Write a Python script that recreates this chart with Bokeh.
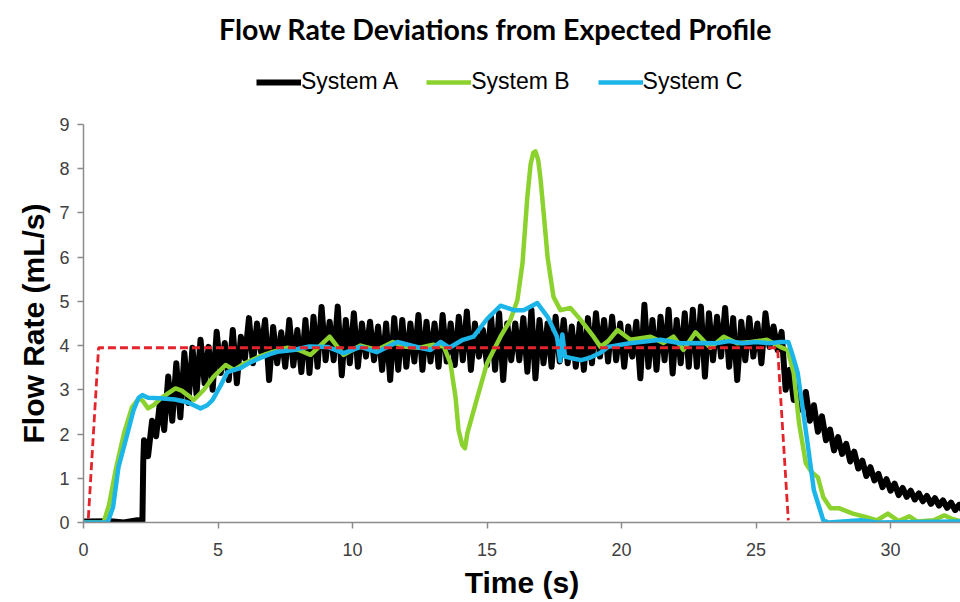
from bokeh.plotting import figure
from bokeh.models import Legend, LegendItem, Range1d, FixedTicker, Label, Title
from bokeh.embed import file_html
from bokeh.resources import INLINE

# ---------------- data ----------------
# Expected profile
exp_t = [0.18, 0.56, 25.8, 26.2]
exp_y = [0.10, 3.95, 3.95, 0.05]

# System A (black, oscillating)
sysA_t = [0.0, 1.0, 1.5, 2.0, 2.19, 2.22,
          2.25, 2.40, 2.55, 2.70, 2.85, 3.00, 3.15, 3.30, 3.45, 3.60,
          3.75, 3.90, 4.05, 4.20, 4.35, 4.50, 4.65, 4.80, 4.95, 5.10,
          5.25, 5.40, 5.55, 5.70, 5.85, 6.00, 6.15, 6.30, 6.45, 6.60,
          6.75, 6.90, 7.05, 7.20, 7.35, 7.50, 7.65, 7.80, 7.95, 8.10,
          8.25, 8.40, 8.55, 8.70, 8.85, 9.00, 9.15, 9.30, 9.45, 9.60,
          9.75, 9.90, 10.05, 10.20, 10.35, 10.50, 10.65, 10.80, 10.95, 11.10,
          11.25, 11.40, 11.55, 11.70, 11.85, 12.00, 12.15, 12.30, 12.45, 12.60,
          12.75, 12.90, 13.05, 13.20, 13.35, 13.50, 13.65, 13.80, 13.95, 14.10,
          14.25, 14.40, 14.55, 14.70, 14.85, 15.00, 15.15, 15.30, 15.45, 15.60,
          15.75, 15.90, 16.05, 16.20, 16.35, 16.50, 16.65, 16.80, 16.95, 17.10,
          17.25, 17.40, 17.55, 17.70, 17.85, 18.00, 18.15, 18.30, 18.45, 18.60,
          18.75, 18.90, 19.05, 19.20, 19.35, 19.50, 19.65, 19.80, 19.95, 20.10,
          20.25, 20.40, 20.55, 20.70, 20.85, 21.00, 21.15, 21.30, 21.45, 21.60,
          21.75, 21.90, 22.05, 22.20, 22.35, 22.50, 22.65, 22.80, 22.95, 23.10,
          23.25, 23.40, 23.55, 23.70, 23.85, 24.00, 24.15, 24.30, 24.45, 24.60,
          24.75, 24.90, 25.05, 25.20, 25.35, 25.50, 25.65, 25.80, 25.95, 26.10,
          26.25, 26.40, 26.55, 26.70, 26.85, 27.00, 27.15, 27.30, 27.45, 27.60,
          27.75, 27.90, 28.05, 28.20, 28.35, 28.50, 28.65, 28.80, 28.95, 29.10,
          29.25, 29.40, 29.55, 29.70, 29.85, 30.00, 30.15, 30.30, 30.45, 30.60,
          30.75, 30.90, 31.05, 31.20, 31.35, 31.50, 31.65, 31.80, 31.95, 32.10,
          32.25, 32.40, 32.55, 32.70]
sysA_y = [0.02, 0.03, 0.00, 0.05, 0.03, 1.34,
          1.86, 1.50, 2.30, 1.95, 2.77, 2.09, 3.30, 2.30, 3.60, 2.38,
          3.83, 2.70, 3.95, 2.90, 4.13, 3.15, 3.97, 3.00, 4.31, 3.38,
          4.06, 3.22, 4.35, 3.15, 4.20, 3.70, 4.62, 3.60, 4.50, 3.85,
          4.58, 3.22, 4.42, 3.60, 4.30, 3.52, 4.58, 3.55, 4.35, 3.40,
          4.58, 3.38, 4.65, 3.52, 4.87, 3.67, 4.54, 3.67, 4.88, 3.33,
          4.58, 3.60, 4.73, 3.52, 4.50, 3.75, 4.54, 3.67, 4.43, 3.45,
          4.50, 3.22, 4.62, 3.45, 4.58, 3.52, 4.50, 3.64, 4.69, 3.45,
          4.54, 3.64, 4.50, 3.52, 4.69, 3.64, 4.50, 3.56, 4.65, 3.67,
          4.77, 3.45, 4.50, 3.75, 4.35, 3.56, 4.65, 3.45, 4.73, 3.22,
          4.50, 3.67, 4.50, 3.67, 4.62, 3.41, 4.81, 3.26, 4.58, 3.60,
          4.50, 3.52, 4.65, 3.64, 4.58, 3.60, 4.43, 3.52, 4.50, 3.45,
          4.62, 3.60, 4.73, 3.75, 4.58, 3.64, 4.65, 3.67, 4.50, 3.52,
          4.43, 3.75, 4.54, 3.26, 4.92, 3.52, 4.58, 3.45, 4.65, 3.67,
          4.81, 3.37, 4.58, 3.60, 4.73, 3.52, 4.81, 3.52, 4.88, 3.30,
          4.73, 3.67, 4.65, 3.75, 4.85, 3.52, 4.62, 3.22, 4.54, 3.67,
          4.62, 3.75, 4.50, 3.60, 4.73, 3.97, 4.43, 3.90, 4.31, 3.00,
          3.45, 2.77, 3.10, 2.55, 2.95, 2.30, 2.65, 2.05, 2.40, 1.86,
          2.10, 1.63, 1.93, 1.55, 1.78, 1.38, 1.60, 1.22, 1.40, 1.05,
          1.25, 0.95, 1.10, 0.80, 0.98, 0.72, 0.88, 0.62, 0.78, 0.58,
          0.72, 0.52, 0.66, 0.48, 0.60, 0.42, 0.55, 0.38, 0.50, 0.33,
          0.45, 0.28, 0.40, 0.25]

# System B (green)
sysB_t = [0.0, 0.75, 0.95, 1.2, 1.5, 1.8, 2.05, 2.2, 2.4, 2.6, 2.86, 3.1,
          3.42, 3.65, 3.87, 4.1, 4.46, 4.83, 5.28, 5.6, 6.0, 6.58, 7.0, 7.58,
          8.0, 8.44, 8.8, 9.15, 9.67, 10.3, 10.9, 11.5, 12.0, 12.5, 13.0, 13.4,
          13.64, 13.83, 13.94, 14.08, 14.18, 14.27, 14.64, 15.0, 15.5, 15.87,
          16.13, 16.32, 16.5, 16.62, 16.72, 16.8, 16.9, 16.99, 17.12, 17.25,
          17.47, 17.73, 18.1, 18.48, 18.96, 19.22, 19.5, 19.85, 20.33, 21.08,
          21.56, 21.93, 22.3, 22.75, 23.3, 23.8, 24.3, 24.8, 25.4, 25.9, 26.17,
          26.4, 26.6, 26.85, 27.05, 27.3, 27.5, 27.77, 28.1, 28.6, 29.1, 29.5,
          29.9, 30.3, 30.7, 31.0, 31.6, 32.0, 32.3, 32.6]
sysB_y = [0.0, 0.0, 0.4, 1.2, 2.0, 2.6, 2.8, 2.75, 2.58, 2.65, 2.8, 2.9,
          3.03, 2.98, 2.88, 2.77, 2.99, 3.29, 3.56, 3.45, 3.6, 3.76, 3.85, 3.95,
          3.9, 3.79, 4.0, 4.2, 3.79, 4.0, 3.9, 4.08, 3.97, 3.95, 4.02, 3.97,
          3.6, 2.83, 2.09, 1.75, 1.68, 2.02, 2.83, 3.6, 4.2, 4.58,
          5.03, 5.87, 7.37, 8.1, 8.36, 8.39, 8.2, 7.76, 6.9, 6.0,
          5.1, 4.8, 4.85, 4.58, 4.2, 3.97, 4.1, 4.35, 4.13, 4.2,
          4.06, 4.2, 3.9, 4.3, 3.95, 4.2, 4.05, 4.08, 4.13, 3.97, 3.9,
          3.38, 2.24, 1.34, 1.15, 1.02, 0.57, 0.32, 0.32, 0.2, 0.12, 0.05,
          0.2, 0.03, 0.14, 0.02, 0.05, 0.16, 0.08, 0.03]

# System C (blue)
sysC_t = [0.0, 0.9, 1.1, 1.3, 1.63, 1.86, 2.05, 2.19, 2.4, 2.86, 3.4, 3.87,
          4.35, 4.6, 4.8, 5.1, 5.35, 5.6, 5.84, 6.2, 6.58, 6.9, 7.2, 7.8,
          8.4, 9.07, 9.67, 10.3, 10.9, 11.67, 12.5, 12.9, 13.27, 13.6, 14.1,
          14.5, 15.0, 15.5, 16.0, 16.36, 16.87, 17.25, 17.6, 17.72, 17.8,
          17.9, 18.1, 18.5, 18.8, 19.2, 19.5, 20.3, 21.45, 22.2, 22.9, 23.5,
          24.0, 24.5, 25.0, 25.5, 25.9, 26.2, 26.35, 26.55, 26.9, 27.15,
          27.5, 27.7, 28.9, 29.5, 32.6]
sysC_y = [0.0, 0.0, 0.35, 1.25, 2.0, 2.54, 2.82, 2.88, 2.82, 2.81, 2.78, 2.72,
          2.58, 2.65, 2.77, 3.1, 3.4, 3.45, 3.49, 3.62, 3.72, 3.8, 3.86, 3.9,
          3.98, 3.97, 3.83, 3.97, 3.85, 4.08, 3.95, 3.9, 4.08, 3.95, 4.13,
          4.2, 4.6, 4.9, 4.8, 4.8, 4.96, 4.65, 4.2, 3.65, 4.25,
          3.75, 3.72, 3.67, 3.72, 3.83, 3.97, 4.05, 4.13, 4.05, 4.06, 4.05,
          4.1, 4.05, 4.08, 4.05, 4.08, 4.08, 3.8, 3.38, 1.86, 0.73,
          0.05, 0.0, 0.05, 0.0, 0.02]

x_ticks = [0, 5, 10, 15, 20, 25, 30]
y_ticks = [0, 1, 2, 3, 4, 5, 6, 7, 8, 9]
title_text = "Flow Rate Deviations from Expected Profile"
x_label = "Time (s)"
y_label = "Flow Rate (mL/s)"

# ---------------- figure ----------------
# frame fills the window height; the y axis itself is bounded to 0..9
p = figure(width=960, height=602, output_backend="svg", toolbar_location=None,
           x_range=Range1d(0, 32.6), y_range=Range1d(0, 11.80),
           min_border_left=83, min_border_right=0, min_border_top=0,
           min_border_bottom=80)
p.outline_line_color = None
p.grid.grid_line_color = None
p.background_fill_color = "white"
p.border_fill_color = "white"

rA = p.line(sysA_t, sysA_y, line_color="#000000", line_width=6, line_join="round")
rB = p.line(sysB_t, sysB_y, line_color="#8cd22e", line_width=4.5, line_join="round")
rC = p.line(sysC_t, sysC_y, line_color="#1cb5ea", line_width=4.5, line_join="round")
rE = p.line(exp_t, exp_y, line_color="#e3242b", line_width=2.8, line_dash="8 4")

for ax, ticks in ((p.xaxis, x_ticks), (p.yaxis, y_ticks)):
    ax.ticker = FixedTicker(ticks=ticks)
    ax.minor_tick_line_color = None
    ax.axis_line_color = "#8c8c8c"
    ax.axis_line_width = 1.5
    ax.major_tick_line_color = "#8c8c8c"
    ax.major_tick_line_width = 1.5
    ax.major_tick_out = 6
    ax.major_tick_in = 0
    ax.major_label_text_font = "Liberation Sans"
    ax.major_label_text_font_size = "18px"
    ax.major_label_text_color = "#404040"
    ax.axis_label_text_font = "Liberation Sans"
    ax.axis_label_text_font_style = "bold"
    ax.axis_label_text_color = "#000000"

p.yaxis.bounds = (0, 9)
p.xaxis.axis_label = x_label
p.xaxis.axis_label_text_font_size = "30px"
p.xaxis.major_label_standoff = 14
p.yaxis.major_label_standoff = 8
p.xaxis.axis_label_standoff = 7

# vertical axis title, placed in the left panel so it is not clipped
ytitle = Title(text=y_label, align="left", offset=79,
               text_font="Liberation Sans", text_font_style="bold",
               text_font_size="30px", text_color="#000000", standoff=14)
p.add_layout(ytitle, "left")

legend = Legend(items=[LegendItem(label="System A", renderers=[rA]),
                       LegendItem(label="System B", renderers=[rB]),
                       LegendItem(label="System C", renderers=[rC])],
                orientation="horizontal", location=(173, 427),
                glyph_width=45, glyph_height=20, label_standoff=0,
                spacing=28, padding=4, margin=0,
                label_text_font="Liberation Sans", label_text_font_size="23px",
                label_text_color="#000000", border_line_color=None,
                background_fill_alpha=0)
p.add_layout(legend, "center")

title = Label(x=412, y=494, x_units="screen", y_units="screen",
              text=title_text, text_align="center", text_baseline="middle",
              text_font="Lato", text_font_style="bold",
              text_font_size="28.5px", text_color="#000000")
p.add_layout(title)

open("out.html", "w").write(file_html(p, INLINE))
